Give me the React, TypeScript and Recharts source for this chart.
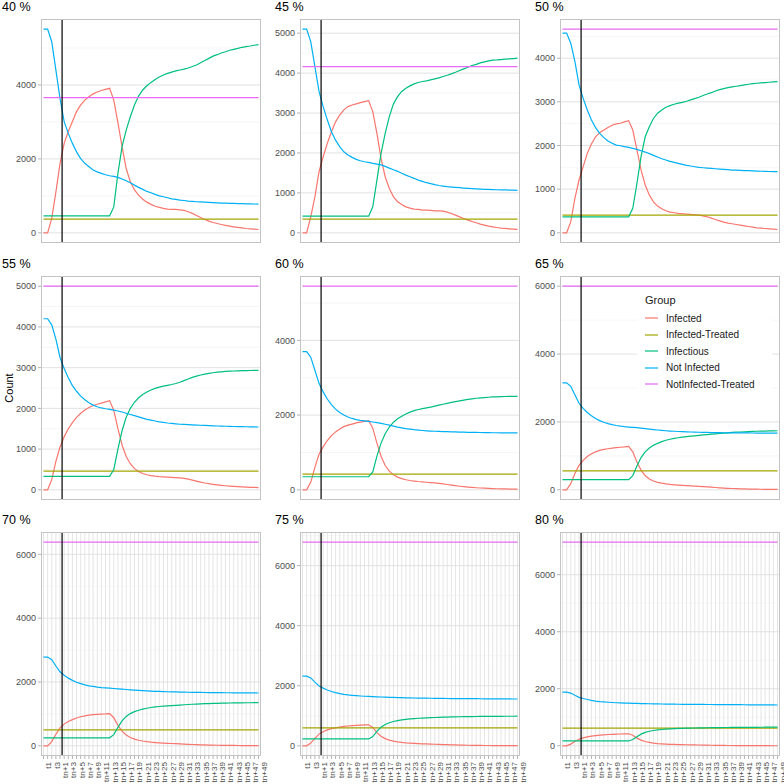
import React from 'react';
import { LineChart, Line, XAxis, YAxis, CartesianGrid, ReferenceLine, Legend } from 'recharts';

const categories = [
  't1', 't2', 't3', 'tn', 'tn+1', 'tn+2', 'tn+3', 'tn+4', 'tn+5', 'tn+6',
  'tn+7', 'tn+8', 'tn+9', 'tn+10', 'tn+11', 'tn+12', 'tn+13', 'tn+14', 'tn+15', 'tn+16',
  'tn+17', 'tn+18', 'tn+19', 'tn+20', 'tn+21', 'tn+22', 'tn+23', 'tn+24', 'tn+25', 'tn+26',
  'tn+27', 'tn+28', 'tn+29', 'tn+30', 'tn+31', 'tn+32', 'tn+33', 'tn+34', 'tn+35', 'tn+36',
  'tn+37', 'tn+38', 'tn+39', 'tn+40', 'tn+41', 'tn+42', 'tn+43', 'tn+44', 'tn+45', 'tn+46',
  'tn+47', 'tn+48', 'tn+49',
];

const panelTitles = ['40 %', '45 %', '50 %', '55 %', '60 %', '65 %', '70 %', '75 %', '80 %'];
const seriesNames = ['Infected', 'Infected-Treated', 'Infectious', 'Not Infected', 'NotInfected-Treated'];
const seriesColors = ['#F8766D', '#A3A500', '#00BF7D', '#00B0F6', '#E76BF3'];

// treatment start marker, between "tn" and "tn+2"
const treatmentStart = 4.5;

const infectedTreated = [370, 343, 405, 460, 420, 560, 500, 600, 620];
const notInfectedTreated = [3660, 4160, 4665, 5000, 5450, 6000, 6380, 6780, 7140];

const yTicksByPanel = [
  [0, 2000, 4000],
  [0, 1000, 2000, 3000, 4000, 5000],
  [0, 1000, 2000, 3000, 4000],
  [0, 1000, 2000, 3000, 4000, 5000],
  [0, 2000, 4000],
  [0, 2000, 4000, 6000],
  [0, 2000, 4000, 6000],
  [0, 2000, 4000, 6000],
  [0, 2000, 4000, 6000],
];

const infected40 = [
  0, 0, 390, 1100, 1880, 2420, 2740, 3010, 3280, 3460,
  3590, 3680, 3760, 3810, 3850, 3880, 3910, 3590, 2980, 2330,
  1740, 1380, 1160, 1020, 910, 830, 770, 720, 690, 660,
  640, 632, 632, 623, 605, 570, 525, 470, 415, 360,
  316, 280, 253, 226, 200, 181, 163, 145, 135, 117,
  108, 99, 90,
];
const infectious40 = [
  460, 460, 460, 460, 460, 460, 460, 460, 460, 460,
  460, 460, 460, 460, 460, 460, 460, 700, 1610, 2330,
  2780, 3140, 3460, 3700, 3865, 3980, 4070, 4150, 4215, 4270,
  4315, 4350, 4380, 4405, 4430, 4460, 4500, 4540, 4600, 4660,
  4720, 4780, 4820, 4865, 4900, 4940, 4965, 4990, 5020, 5040,
  5055, 5075, 5090,
];
const notInfected40 = [
  5510, 5510, 5170, 4400, 3640, 3010, 2690, 2420, 2190, 2010,
  1880, 1790, 1700, 1650, 1610, 1570, 1545, 1525, 1500, 1455,
  1410, 1355, 1290, 1230, 1175, 1120, 1085, 1040, 1000, 975,
  950, 920, 905, 885, 875, 860, 850, 840, 838, 830,
  822, 815, 810, 806, 802, 798, 795, 792, 788, 785,
  782, 780, 777,
];

const infected45 = [
  0, 0, 400, 900, 1530, 1905, 2240, 2530, 2780, 2950,
  3080, 3160, 3200, 3230, 3260, 3285, 3310, 3035, 2490, 1865,
  1405, 1110, 900, 780, 710, 650, 620, 595, 585, 570,
  568, 560, 552, 550, 543, 518, 485, 443, 400, 360,
  318, 284, 251, 217, 192, 167, 151, 134, 117, 109,
  100, 92, 84,
];
const infectious45 = [
  418, 418, 418, 418, 418, 418, 418, 418, 418, 418,
  418, 418, 418, 418, 418, 418, 418, 650, 1320, 1990,
  2490, 2910, 3230, 3410, 3540, 3620, 3680, 3730, 3765, 3790,
  3805, 3830, 3855, 3880, 3915, 3945, 3980, 4020, 4065, 4105,
  4145, 4190, 4220, 4255, 4280, 4305, 4325, 4330, 4340, 4348,
  4356, 4365, 4373,
];
const notInfected45 = [
  5100, 5100, 4790, 4160, 3540, 3160, 2830, 2530, 2320, 2160,
  2030, 1950, 1890, 1840, 1805, 1780, 1765, 1740, 1720, 1700,
  1665, 1620, 1580, 1540, 1490, 1445, 1405, 1365, 1320, 1290,
  1255, 1230, 1205, 1185, 1170, 1155, 1145, 1137, 1130, 1120,
  1112, 1105, 1100, 1095, 1090, 1087, 1083, 1079, 1077, 1074,
  1071, 1068, 1062,
];

const infected50 = [
  0, 0, 250, 790, 1210, 1515, 1820, 2035, 2200, 2295,
  2355, 2415, 2465, 2495, 2510, 2540, 2570, 2355, 1900, 1440,
  1095, 865, 710, 612, 551, 505, 474, 459, 444, 436,
  428, 421, 413, 405, 390, 367, 337, 306, 275, 245,
  222, 207, 191, 176, 161, 145, 130, 115, 107, 99,
  92, 84, 76,
];
const infectious50 = [
  367, 367, 367, 367, 367, 367, 367, 367, 367, 367,
  367, 367, 367, 367, 367, 367, 367, 560, 1130, 1745,
  2200, 2430, 2620, 2740, 2815, 2875, 2915, 2945, 2970, 2990,
  3013, 3045, 3075, 3105, 3145, 3180, 3210, 3250, 3280, 3305,
  3327, 3342, 3358, 3373, 3388, 3403, 3419, 3426, 3434, 3442,
  3449, 3457, 3465,
];
const notInfected50 = [
  4575, 4575, 4345, 3925, 3390, 3080, 2815, 2585, 2410, 2280,
  2180, 2105, 2050, 2010, 1995, 1975, 1958, 1935, 1912, 1880,
  1850, 1813, 1775, 1736, 1698, 1667, 1637, 1614, 1591, 1568,
  1545, 1530, 1514, 1500, 1491, 1484, 1476, 1468, 1461, 1453,
  1446, 1438, 1434, 1430, 1426, 1423, 1419, 1415, 1411, 1407,
  1405, 1403, 1400,
];

const infected55 = [
  0, 0, 250, 700, 1050, 1300, 1500, 1650, 1780, 1880,
  1960, 2020, 2070, 2100, 2130, 2160, 2190, 1950, 1500, 1100,
  820, 640, 520, 450, 400, 370, 350, 335, 325, 318,
  312, 306, 300, 292, 280, 262, 240, 215, 190, 168,
  150, 135, 122, 110, 100, 92, 85, 78, 72, 67,
  62, 58, 55,
];
const infectious55 = [
  330, 330, 330, 330, 330, 330, 330, 330, 330, 330,
  330, 330, 330, 330, 330, 330, 330, 500, 1000, 1450,
  1780, 2000, 2150, 2260, 2340, 2400, 2450, 2490, 2520, 2545,
  2565, 2585, 2610, 2640, 2680, 2720, 2760, 2790, 2820, 2840,
  2860, 2875, 2888, 2898, 2906, 2912, 2917, 2921, 2925, 2928,
  2930, 2932, 2934,
];
const notInfected55 = [
  4200, 4200, 4050, 3700, 3250, 2980, 2750, 2560, 2420, 2300,
  2210, 2140, 2080, 2040, 2010, 1990, 1975, 1955, 1935, 1910,
  1880, 1850, 1820, 1790, 1760, 1730, 1710, 1690, 1670, 1655,
  1640, 1630, 1620, 1610, 1605, 1600, 1595, 1590, 1585, 1580,
  1575, 1570, 1567, 1564, 1561, 1558, 1555, 1552, 1550, 1548,
  1546, 1544, 1542,
];

const infected60 = [
  0, 0, 200, 600, 950, 1150, 1320, 1450, 1550, 1630,
  1690, 1730, 1760, 1790, 1810, 1830, 1850, 1650, 1250, 900,
  650, 500, 400, 340, 300, 270, 250, 235, 222, 212,
  203, 195, 185, 172, 158, 142, 125, 110, 96, 84,
  73, 64, 56, 49, 43, 38, 33, 29, 26, 23,
  21, 19, 17,
];
const infectious60 = [
  350, 350, 350, 350, 350, 350, 350, 350, 350, 350,
  350, 350, 350, 350, 350, 350, 350, 480, 900, 1250,
  1500, 1680, 1810, 1900, 1970, 2030, 2080, 2120, 2150, 2175,
  2195, 2215, 2240, 2265, 2290, 2315, 2340, 2360, 2380, 2400,
  2420, 2435, 2450, 2460, 2470, 2478, 2485, 2490, 2494, 2497,
  2499, 2500, 2502,
];
const notInfected60 = [
  3700, 3700, 3550, 3200, 2850, 2620, 2430, 2280, 2160, 2070,
  2000, 1950, 1910, 1880, 1860, 1845, 1830, 1815, 1800, 1780,
  1755, 1730, 1705, 1680, 1660, 1640, 1625, 1610, 1598, 1588,
  1580, 1573, 1567, 1562, 1558, 1555, 1552, 1549, 1546, 1543,
  1540, 1538, 1536, 1534, 1532, 1530, 1528, 1527, 1526, 1525,
  1524, 1523, 1522,
];

const infected65 = [
  0, 0, 180, 480, 720, 870, 980, 1060, 1120, 1160,
  1190, 1210, 1230, 1245, 1255, 1265, 1280, 1120, 820, 580,
  420, 320, 260, 220, 195, 175, 160, 148, 138, 130,
  123, 117, 110, 103, 95, 86, 77, 68, 60, 52,
  45, 39, 34, 30, 26, 23, 20, 18, 16, 14,
  13, 12, 11,
];
const infectious65 = [
  300, 300, 300, 300, 300, 300, 300, 300, 300, 300,
  300, 300, 300, 300, 300, 300, 300, 420, 700, 950,
  1120, 1230, 1310, 1370, 1420, 1460, 1490, 1515, 1535, 1552,
  1567, 1580, 1592, 1604, 1616, 1628, 1640, 1650, 1660, 1670,
  1680, 1690, 1697, 1704, 1710, 1715, 1720, 1725, 1729, 1732,
  1735, 1738, 1740,
];
const notInfected65 = [
  3150, 3150, 3050, 2800, 2550, 2400, 2280, 2180, 2100, 2040,
  1990, 1950, 1920, 1895, 1875, 1860, 1850, 1840, 1830, 1818,
  1805, 1790, 1775, 1762, 1750, 1740, 1732, 1725, 1718, 1712,
  1707, 1703, 1699, 1696, 1693, 1690, 1688, 1686, 1684, 1682,
  1680, 1679, 1678, 1677, 1676, 1675, 1674, 1673, 1672, 1671,
  1670, 1669, 1668,
];

const infected70 = [
  0, 0, 130, 360, 560, 680, 760, 820, 870, 910,
  940, 960, 975, 985, 995, 1000, 1010, 880, 640, 460,
  340, 260, 210, 175, 150, 130, 115, 103, 93, 85,
  78, 72, 66, 60, 54, 48, 42, 37, 32, 28,
  24, 21, 18, 16, 14, 12, 11, 10, 9, 8,
  7, 6, 6,
];
const infectious70 = [
  250, 250, 250, 250, 250, 250, 250, 250, 250, 250,
  250, 250, 250, 250, 250, 250, 250, 350, 580, 780,
  920, 1010, 1070, 1115, 1150, 1178, 1200, 1218, 1232, 1244,
  1254, 1262, 1270, 1278, 1286, 1294, 1302, 1308, 1314, 1319,
  1324, 1328, 1332, 1335, 1338, 1341, 1343, 1345, 1347, 1349,
  1350, 1351, 1352,
];
const notInfected70 = [
  2780, 2780, 2700, 2500, 2320, 2210, 2120, 2050, 1990, 1950,
  1910, 1880, 1860, 1840, 1825, 1815, 1805, 1795, 1785, 1775,
  1765, 1755, 1745, 1735, 1727, 1720, 1714, 1708, 1703, 1698,
  1694, 1690, 1687, 1684, 1681, 1678, 1676, 1674, 1672, 1670,
  1668, 1666, 1665, 1664, 1663, 1662, 1661, 1660, 1659, 1658,
  1657, 1656, 1655,
];

const infected75 = [
  0, 0, 90, 250, 390, 470, 530, 570, 600, 625,
  645, 660, 670, 680, 688, 695, 700, 610, 440, 320,
  240, 190, 155, 130, 112, 98, 88, 80, 73, 67,
  62, 57, 52, 47, 42, 37, 33, 29, 25, 22,
  19, 17, 15, 13, 11, 10, 9, 8, 7, 6,
  6, 5, 5,
];
const infectious75 = [
  230, 230, 230, 230, 230, 230, 230, 230, 230, 230,
  230, 230, 230, 230, 230, 230, 230, 310, 480, 620,
  710, 770, 810, 840, 862, 880, 895, 907, 917, 925,
  932, 938, 943, 948, 953, 957, 961, 964, 967, 970,
  972, 974, 976, 978, 979, 980, 981, 982, 983, 984,
  985, 985, 986,
];
const notInfected75 = [
  2320, 2320, 2260, 2120, 1990, 1920, 1860, 1810, 1770, 1740,
  1715, 1695, 1680, 1668, 1658, 1650, 1643, 1637, 1631, 1625,
  1620, 1615, 1610, 1606, 1602, 1598, 1595, 1592, 1589, 1587,
  1585, 1583, 1581, 1579, 1577, 1575, 1574, 1573, 1572, 1571,
  1570, 1569, 1568, 1567, 1566, 1565, 1564, 1563, 1562, 1561,
  1560, 1559, 1558,
];

const infected80 = [
  0, 0, 60, 150, 230, 280, 315, 340, 360, 375,
  387, 396, 403, 409, 414, 418, 422, 370, 270, 200,
  150, 118, 96, 80, 69, 60, 54, 49, 45, 41,
  38, 35, 32, 29, 26, 23, 20, 18, 16, 14,
  12, 11, 10, 9, 8, 7, 6, 5, 5, 4,
  4, 3, 3,
];
const infectious80 = [
  170, 170, 170, 170, 170, 170, 170, 170, 170, 170,
  170, 170, 170, 170, 170, 170, 170, 220, 320, 410,
  470, 510, 538, 558, 573, 585, 595, 603, 609, 614,
  618, 622, 625, 628, 631, 634, 636, 638, 640, 642,
  643, 644, 645, 646, 647, 648, 649, 650, 651, 652,
  653, 653, 654,
];
const notInfected80 = [
  1880, 1880, 1850, 1770, 1700, 1660, 1625, 1595, 1570, 1552,
  1538, 1527, 1518, 1510, 1504, 1499, 1494, 1490, 1486, 1482,
  1478, 1475, 1472, 1469, 1466, 1464, 1462, 1460, 1458, 1456,
  1454, 1453, 1452, 1451, 1450, 1449, 1448, 1447, 1446, 1445,
  1444, 1443, 1442, 1441, 1440, 1439, 1438, 1437, 1436, 1435,
  1434, 1433, 1432,
];

const infectedByPanel = [infected40, infected45, infected50, infected55, infected60, infected65, infected70, infected75, infected80];
const infectiousByPanel = [infectious40, infectious45, infectious50, infectious55, infectious60, infectious65, infectious70, infectious75, infectious80];
const notInfectedByPanel = [notInfected40, notInfected45, notInfected50, notInfected55, notInfected60, notInfected65, notInfected70, notInfected75, notInfected80];

const FONT = '"Liberation Sans", Arial, Helvetica, sans-serif';
const COL_LEFT = [1, 260, 520];
const ROW_TOP = [19, 276, 532];
const TITLE_LEFT = [2, 275, 535];
const AXIS_W = 40;
const PLOT_W = 220;
const PLOT_H = 224;
const XAXIS_H = 28;
const RIGHT_PAD = 10; // room for the last rotated tick label
const allIdx = categories.map((_, i) => i);

const XTick = (props: any) => {
  const { x, y, payload } = props;
  if (payload.value % 2 !== 0) return <g />;
  const tx = x + 5.5;
  return (
    <text x={tx} y={y} transform={`rotate(-90 ${tx} ${y})`} textAnchor="end" dominantBaseline="central"
      fontSize={8.1} fill="#4D4D4D" fontFamily={FONT}>
      {categories[payload.value]}
    </text>
  );
};

const renderLegend = (props: any) => (
  <div style={{ background: '#fff', width: 135, height: 110, boxSizing: 'border-box', padding: '5px 0 0 8px', fontFamily: FONT, color: '#1A1A1A' }}>
    <div style={{ fontSize: 11, lineHeight: '14px', marginBottom: 3 }}>Group</div>
    {(props.payload || []).map((e: any) => (
      <div key={e.value} style={{ display: 'flex', alignItems: 'center', height: 16.5, fontSize: 10 }}>
        <svg width={13} height={4}><line x1={0} y1={2} x2={13} y2={2} stroke={e.color} strokeWidth={1.2} /></svg>
        <span style={{ marginLeft: 8 }}>{e.value}</span>
      </div>
    ))}
  </div>
);

function Panel({ p }: { p: number }) {
  const row = Math.floor(p / 3);
  const col = p % 3;
  const bottomRow = row === 2;
  const data = categories.map((c, i) => ({
    idx: i,
    label: c,
    Infected: infectedByPanel[p][i],
    'Infected-Treated': infectedTreated[p],
    Infectious: infectiousByPanel[p][i],
    'Not Infected': notInfectedByPanel[p][i],
    'NotInfected-Treated': notInfectedTreated[p],
  }));
  const maxVal = Math.max(...infectedByPanel[p], ...infectiousByPanel[p], ...notInfectedByPanel[p], infectedTreated[p], notInfectedTreated[p]);
  const yDomain = [-0.05 * maxVal, 1.05 * maxVal];
  const majors = yTicksByPanel[p];
  const step = majors[1] - majors[0];
  const minors = majors.map((t) => t + step / 2).filter((v) => v < yDomain[1]);
  const left = COL_LEFT[col];
  const top = ROW_TOP[row];

  return (
    <>
      <div style={{ position: 'absolute', left: TITLE_LEFT[col], top: top - 19, fontSize: 12.5, lineHeight: '15px', color: '#000' }}>
        {panelTitles[p]}
      </div>
      <div style={{ position: 'absolute', left, top }}>
        <LineChart width={AXIS_W + PLOT_W + RIGHT_PAD} height={PLOT_H + (bottomRow ? XAXIS_H : 0)} data={data}
          margin={{ top: 0, right: RIGHT_PAD, bottom: 0, left: 0 }}>
          <CartesianGrid horizontal={false} verticalValues={allIdx} stroke="#DADADA" strokeWidth={0.7} />
          <CartesianGrid vertical={false} horizontalValues={minors} stroke="#ECECEC" strokeWidth={0.5} />
          <CartesianGrid vertical={false} horizontalValues={majors} stroke="#DADADA" strokeWidth={0.8} />
          <XAxis type="number" dataKey="idx" domain={[-0.6, 52.6]} ticks={allIdx} interval={0}
            allowDataOverflow hide={!bottomRow} height={bottomRow ? XAXIS_H : 0}
            tick={bottomRow ? <XTick /> : false} axisLine={false} tickLine={{ stroke: '#B3B3B3' }}
            tickSize={3} tickMargin={3} />
          <YAxis type="number" domain={yDomain} ticks={majors} interval={0} width={AXIS_W} allowDataOverflow
            axisLine={false} tickLine={{ stroke: '#B3B3B3' }} tickSize={3} tickMargin={2}
            tick={{ fill: '#4D4D4D', fontSize: 9, fontFamily: FONT }}
            label={p === 3 ? { value: 'Count', angle: -90, position: 'insideLeft', offset: 8, style: { fontSize: 11, fill: '#000', fontFamily: FONT, textAnchor: 'middle' } } : undefined} />
          {seriesNames.map((name, k) => (
            <Line key={name} type="linear" dataKey={name} stroke={seriesColors[k]} strokeWidth={1.2}
              dot={false} activeDot={false} isAnimationActive={false} />
          ))}
          <ReferenceLine x={treatmentStart} stroke="#000" strokeWidth={1.2} />
          {p === 5 && (
            <Legend layout="horizontal" verticalAlign="middle" align="center" content={renderLegend}
              wrapperStyle={{ left: 117, top: 12, width: 135, height: 110 }} />
          )}
        </LineChart>
      </div>
      <div style={{ position: 'absolute', left: left + AXIS_W, top, width: PLOT_W, height: PLOT_H, border: '1px solid #C4C4C4', boxSizing: 'border-box', pointerEvents: 'none' }} />
    </>
  );
}

export default function App() {
  return (
    <div style={{ position: 'absolute', left: 0, top: 0, width: 784, height: 784, background: '#fff', fontFamily: FONT, overflow: 'hidden' }}>
      {panelTitles.map((_, p) => <Panel key={p} p={p} />)}
    </div>
  );
}
